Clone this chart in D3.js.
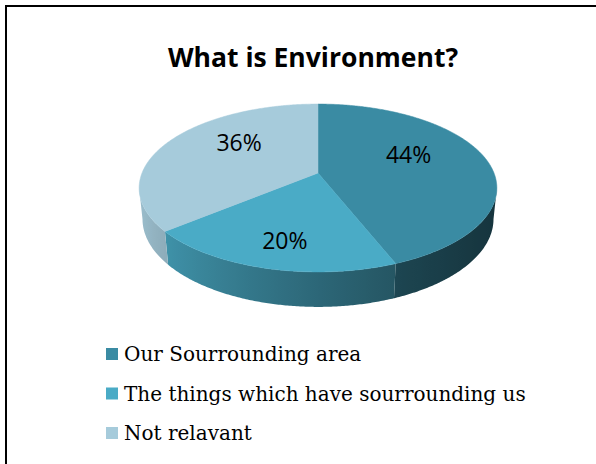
<!DOCTYPE html>
<html>
<head>
<meta charset="utf-8">
<script src="https://cdn.jsdelivr.net/npm/d3@7"></script>
<style>
body { margin: 0; background: #fff; }
</style>
</head>
<body>
<svg id="chart" width="596" height="464"></svg>
<script>
var categories = ["Our Sourrounding area", "The things which have sourrounding us", "Not relavant"];
var values = [44, 20, 36];
var valueLabels = ["44%", "20%", "36%"];
var colors = ["#3a8ba3", "#4aabc6", "#a6cbdb"];
var title = "What is Environment?";

var svg = d3.select("#chart");
var defs = svg.append("defs");

// chart frame (runs off the right / bottom like the original)
svg.append("rect")
    .attr("x", 6).attr("y", 6)
    .attr("width", 640).attr("height", 500)
    .attr("fill", "#fff")
    .attr("stroke", "#000")
    .attr("stroke-width", 2);

svg.append("text")
    .attr("x", 313).attr("y", 67)
    .attr("text-anchor", "middle")
    .style("font-family", "'Open Sans', sans-serif")
    .style("font-weight", "bold")
    .style("font-size", "26.5px")
    .text(title);

// simple perspective projection of a tilted disc
var cx = 318, cy = 173, k = 176;
var tilt = 27.5 * Math.PI / 180, dist = 4.97, depth = 0.2;
var sa = Math.sin(tilt), ca = Math.cos(tilt);

function project(theta, r, h) {
    var X = r * Math.sin(theta), Z = -r * Math.cos(theta);
    var sy = Z * sa - h * ca;
    var dz = Z * ca + h * sa;
    var s = dist / (dist - dz);
    return [cx + k * s * X, cy + k * s * sy];
}

// where the side wall stops being visible
var thR = 0, thL = Math.PI, best;
best = -1e9;
for (var t = 0; t <= Math.PI; t += 0.001) {
    var p = project(t, 1, 0);
    if (p[0] > best) { best = p[0]; thR = t; }
}
best = 1e9;
for (var t = Math.PI; t <= 2 * Math.PI; t += 0.001) {
    var p = project(t, 1, 0);
    if (p[0] < best) { best = p[0]; thL = t; }
}

// light comes from the left, right side of the wall goes dark
function shade(color, theta) {
    var f = 0.68 + 0.3 * Math.cos(theta - 285 * Math.PI / 180);
    var c = d3.rgb(color);
    return d3.rgb(c.r * f, c.g * f, c.b * f).formatHex();
}

var pie = d3.pie().sort(null).value(function(d) { return d; });
var arcs = pie(values);
var step = Math.PI / 360;
var line = d3.line();

function rimPoints(a0, a1, h) {
    var pts = [];
    for (var t = a0; t < a1; t += step) pts.push(project(t, 1, h));
    pts.push(project(a1, 1, h));
    return pts;
}

// side walls, shaded with a gradient along x
var gWall = svg.append("g");
arcs.forEach(function(a, i) {
    var a0 = Math.max(a.startAngle, thR), a1 = Math.min(a.endAngle, thL);
    if (a1 <= a0) return;
    var xa = project(a0, 1, 0)[0], xb = project(a1, 1, 0)[0];
    var grad = defs.append("linearGradient")
        .attr("id", "wall" + i)
        .attr("gradientUnits", "userSpaceOnUse")
        .attr("x1", xa).attr("y1", 0)
        .attr("x2", xb).attr("y2", 0);
    var n = 24;
    for (var j = 0; j <= n; j++) {
        var t = a0 + (a1 - a0) * j / n;
        grad.append("stop")
            .attr("offset", (project(t, 1, 0)[0] - xa) / (xb - xa))
            .attr("stop-color", shade(colors[i], t));
    }
    var pts = rimPoints(a0, a1, 0).concat(rimPoints(a0, a1, -depth).reverse());
    gWall.append("path")
        .attr("d", line(pts) + "Z")
        .attr("fill", "url(#wall" + i + ")");
});

// top faces
var polys = arcs.map(function(a) {
    return [project(0, 0, 0)].concat(rimPoints(a.startAngle, a.endAngle, 0));
});
svg.append("g").selectAll("path")
    .data(polys)
    .join("path")
    .attr("d", function(d) { return line(d) + "Z"; })
    .attr("fill", function(d, i) { return colors[i]; })
    .attr("stroke", function(d, i) { return colors[i]; })
    .attr("stroke-width", 0.5);

// value labels: anchored at the mid angle, box pushed to the inner side
var labelR = 0.67, capH = 16;
svg.append("g").selectAll("text")
    .data(arcs)
    .join("text")
    .each(function(a) {
        var mid = (a.startAngle + a.endAngle) / 2;
        var p = project(mid, labelR, 0);
        var X = Math.sin(mid), Z = -Math.cos(mid);
        d3.select(this)
            .attr("x", p[0])
            .attr("y", Z > 0 ? p[1] + capH : p[1])
            .attr("text-anchor", X > 0.3 ? "end" : (X < -0.3 ? "start" : "middle"));
    })
    .style("font-family", "'Open Sans', sans-serif")
    .style("font-size", "23px")
    .style("fill", "#000")
    .text(function(d, i) { return valueLabels[i]; });

// legend
var legend = svg.append("g").selectAll("g")
    .data(categories)
    .join("g")
    .attr("transform", function(d, i) { return "translate(106," + (361 + i * 39.5) + ")"; });
legend.append("rect")
    .attr("x", 0).attr("y", -13)
    .attr("width", 12).attr("height", 12)
    .attr("fill", function(d, i) { return colors[i]; });
legend.append("text")
    .attr("x", 18).attr("y", 0)
    .style("font-family", "'DejaVu Serif', serif")
    .style("font-size", "20px")
    .text(function(d) { return d; });
</script>
</body>
</html>
